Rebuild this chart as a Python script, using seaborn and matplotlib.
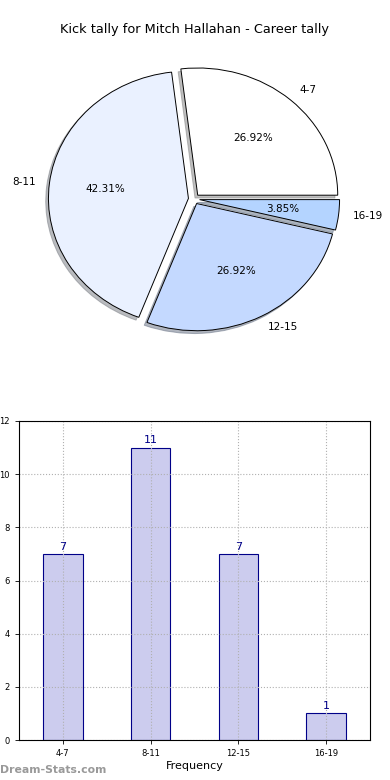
import matplotlib
matplotlib.use("Agg")
import matplotlib.pyplot as plt
import seaborn as sns
import pandas as pd

categories = ["4-7", "8-11", "12-15", "16-19"]
counts = [7, 11, 7, 1]
pie_colors = ["#ffffff", "#eaf1ff", "#c4d9ff", "#b4d4ff"]
title = "Kick tally for Mitch Hallahan - Career tally"
y_label = "Stat Inter Tally"
x_label = "Frequency"
y_ticks = [0, 2, 4, 6, 8, 10, 12]

sns.set_style("white")
plt.rcParams['font.family'] = ['DejaVu Sans']
plt.rcParams['text.color'] = 'black'
plt.rcParams['axes.labelcolor'] = 'black'

fig = plt.figure(figsize=(3.9, 7.8), dpi=100)

# Pie
axp = fig.add_axes([19/390, (780-358)/780, 350/390, 318/780])
wedges, texts, autotexts = axp.pie(
    counts, labels=categories, colors=pie_colors, explode=[0.04]*4,
    autopct="%.2f%%", shadow=dict(ox=-0.014, oy=-0.016, shade=0.5),
    startangle=0, counterclock=True,
    wedgeprops=dict(edgecolor="black", linewidth=0.7),
    textprops=dict(fontsize=7.5, color="black"))
axp.set_aspect("auto")
axp.set_xlim(-1.25, 1.25)
axp.set_ylim(-1.25, 1.25)
fig.text(0.5, 1 - 30/780, title, ha="center", va="center", fontsize=9.3, color="black")

# Bars
axb = fig.add_axes([19/390, (780-740)/780, 351/390, 319/780])
df = pd.DataFrame({"cat": categories, "count": counts})
sns.barplot(data=df, x="cat", y="count", ax=axb, color="#ccccee",
            saturation=1, edgecolor="#000088", linewidth=0.8, width=0.45)
axb.set_xlim(-0.5, 3.5)
axb.set_ylim(0, 12)
axb.set_yticks(y_ticks)
axb.tick_params(labelsize=6, length=3, width=0.6, direction="out", colors="black")
axb.tick_params(axis="both", which="both", bottom=True, left=True)
axb.grid(True, linestyle=":", color="#b0b0b0", linewidth=0.8)
axb.set_axisbelow(False)
for s in axb.spines.values():
    s.set_color("black")
    s.set_linewidth(0.8)
    s.set_zorder(5)
axb.set_xlabel(x_label, fontsize=8, labelpad=2)
axb.set_ylabel(y_label, fontsize=8, labelpad=4)
for i, v in enumerate(counts):
    axb.text(i, v + 0.08, str(v), ha="center", va="bottom", color="#000088", fontsize=8)

fig.text(0.0, 1 - 770/780, "Dream-Stats.com", ha="left", va="center",
         fontsize=7.8, color="#999999", fontweight="bold")

fig.savefig("out.png", dpi=100)
